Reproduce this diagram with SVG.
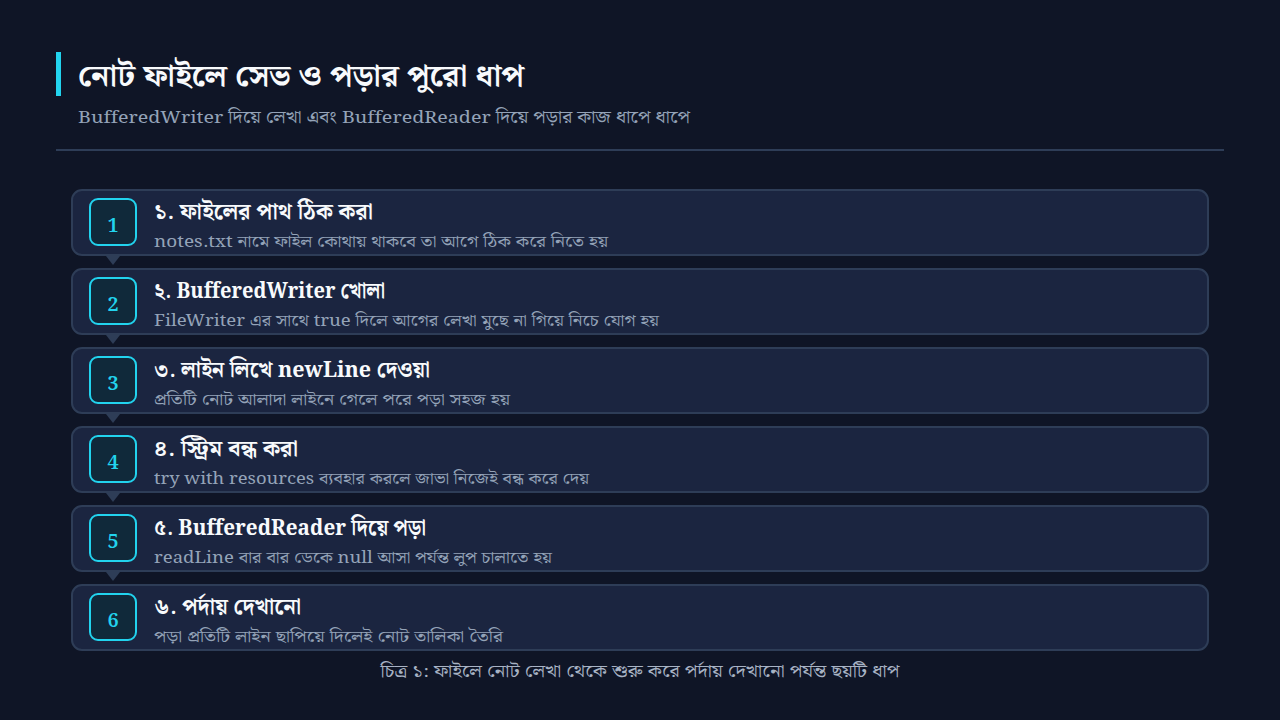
<svg xmlns="http://www.w3.org/2000/svg" width="1280" height="720" viewBox="0 0 1280 720">
<style>
  .bn { font-family: "Noto Serif Bengali", "Noto Sans Bengali", "Liberation Serif", serif; }
  .card { fill: #1b2540; stroke: #2e3d57; stroke-width: 2; }
  .badge { fill: #10293a; stroke: #22d3ee; stroke-width: 2; }
  .num { fill: #22d3ee; font-size: 20px; font-weight: 700; text-anchor: middle; }
  .ttl { fill: #f8fafc; font-size: 22px; font-weight: 700; }
  .dsc { fill: #94a3b8; font-size: 16px; }
  .tri { fill: #2e3d57; }
</style>
<rect x="0" y="0" width="1280" height="720" fill="#0f1526"/>
<g id="header">
  <rect x="56" y="52" width="5" height="44" fill="#22d3ee"/>
  <text class="bn" x="78" y="86" font-size="30" font-weight="700" fill="#f8fafc" textLength="446" lengthAdjust="spacingAndGlyphs">নোট ফাইলে সেভ ও পড়ার পুরো ধাপ</text>
  <text class="bn" x="78" y="123" font-size="17" fill="#94a3b8" textLength="612" lengthAdjust="spacingAndGlyphs">BufferedWriter দিয়ে লেখা এবং BufferedReader দিয়ে পড়ার কাজ ধাপে ধাপে</text>
  <rect x="56" y="149" width="1168" height="2" fill="#2e3d57"/>
</g>
<g id="connectors">
  <polygon class="tri" points="106,256 120,256 113,265"/>
  <polygon class="tri" points="106,335 120,335 113,344"/>
  <polygon class="tri" points="106,414 120,414 113,423"/>
  <polygon class="tri" points="106,493 120,493 113,502"/>
  <polygon class="tri" points="106,572 120,572 113,581"/>
</g>
<g id="step1">
  <rect class="card" x="72" y="190" width="1136" height="65" rx="10"/>
  <rect class="badge" x="90" y="199" width="46" height="46" rx="8"/>
  <text class="bn num" x="113" y="232">1</text>
  <text class="bn ttl" x="154" y="219" textLength="219" lengthAdjust="spacingAndGlyphs">১. ফাইলের পাথ ঠিক করা</text>
  <text class="bn dsc" x="154" y="247" textLength="454" lengthAdjust="spacingAndGlyphs">notes.txt নামে ফাইল কোথায় থাকবে তা আগে ঠিক করে নিতে হয়</text>
</g>
<g id="step2">
  <rect class="card" x="72" y="269" width="1136" height="65" rx="10"/>
  <rect class="badge" x="90" y="278" width="46" height="46" rx="8"/>
  <text class="bn num" x="113" y="311">2</text>
  <text class="bn ttl" x="154" y="298" textLength="231" lengthAdjust="spacingAndGlyphs">২. BufferedWriter খোলা</text>
  <text class="bn dsc" x="154" y="326" textLength="505" lengthAdjust="spacingAndGlyphs">FileWriter এর সাথে true দিলে আগের লেখা মুছে না গিয়ে নিচে যোগ হয়</text>
</g>
<g id="step3">
  <rect class="card" x="72" y="348" width="1136" height="65" rx="10"/>
  <rect class="badge" x="90" y="357" width="46" height="46" rx="8"/>
  <text class="bn num" x="113" y="390">3</text>
  <text class="bn ttl" x="154" y="377" textLength="276" lengthAdjust="spacingAndGlyphs">৩. লাইন লিখে newLine দেওয়া</text>
  <text class="bn dsc" x="154" y="405" textLength="356" lengthAdjust="spacingAndGlyphs">প্রতিটি নোট আলাদা লাইনে গেলে পরে পড়া সহজ হয়</text>
</g>
<g id="step4">
  <rect class="card" x="72" y="427" width="1136" height="65" rx="10"/>
  <rect class="badge" x="90" y="436" width="46" height="46" rx="8"/>
  <text class="bn num" x="113" y="469">4</text>
  <text class="bn ttl" x="154" y="456" textLength="144" lengthAdjust="spacingAndGlyphs">৪. স্ট্রিম বন্ধ করা</text>
  <text class="bn dsc" x="154" y="484" textLength="435" lengthAdjust="spacingAndGlyphs">try with resources ব্যবহার করলে জাভা নিজেই বন্ধ করে দেয়</text>
</g>
<g id="step5">
  <rect class="card" x="72" y="506" width="1136" height="65" rx="10"/>
  <rect class="badge" x="90" y="515" width="46" height="46" rx="8"/>
  <text class="bn num" x="113" y="548">5</text>
  <text class="bn ttl" x="154" y="535" textLength="272" lengthAdjust="spacingAndGlyphs">৫. BufferedReader দিয়ে পড়া</text>
  <text class="bn dsc" x="154" y="563" textLength="398" lengthAdjust="spacingAndGlyphs">readLine বার বার ডেকে null আসা পর্যন্ত লুপ চালাতে হয়</text>
</g>
<g id="step6">
  <rect class="card" x="72" y="585" width="1136" height="65" rx="10"/>
  <rect class="badge" x="90" y="594" width="46" height="46" rx="8"/>
  <text class="bn num" x="113" y="627">6</text>
  <text class="bn ttl" x="154" y="614" textLength="147" lengthAdjust="spacingAndGlyphs">৬. পর্দায় দেখানো</text>
  <text class="bn dsc" x="154" y="642" textLength="349" lengthAdjust="spacingAndGlyphs">পড়া প্রতিটি লাইন ছাপিয়ে দিলেই নোট তালিকা তৈরি</text>
</g>
<g id="caption">
  <text class="bn" x="640" y="677" font-size="17" fill="#a8b3c4" text-anchor="middle" textLength="519" lengthAdjust="spacingAndGlyphs">চিত্র ১: ফাইলে নোট লেখা থেকে শুরু করে পর্দায় দেখানো পর্যন্ত ছয়টি ধাপ</text>
</g>
</svg>
